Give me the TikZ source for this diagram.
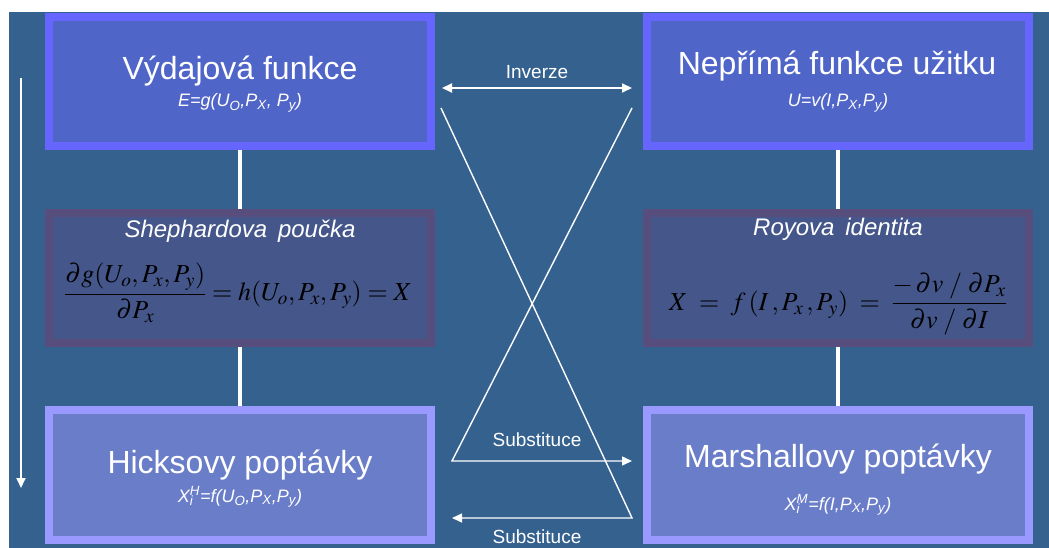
\documentclass[tikz,border=0pt]{standalone}
\usepackage{amsmath}
\usepackage{mathptmx}
\usepackage{fontspec}
\setmainfont{Liberation Sans}
\usepackage{xcolor}
\usepackage{tikz}
\usetikzlibrary{arrows.meta,positioning}
\definecolor{slide}{HTML}{35618F}
\definecolor{topedge}{HTML}{6666FF}
\definecolor{topfill}{HTML}{5065C8}
\definecolor{midedge}{HTML}{584E7E}
\definecolor{midfill}{HTML}{44568A}
\definecolor{lowedge}{HTML}{9999FF}
\definecolor{lowfill}{HTML}{6A7DC8}
\newcommand{\sub}[1]{\textsubscript{#1}}
\newcommand{\subsup}[3]{#1\rlap{\textsubscript{#2}}\textsuperscript{#3}}
\tikzset{
  >={Triangle[length=10pt,width=9pt]},
  base/.style={line width=8pt,inner sep=0pt,outer sep=4pt,minimum width=382pt},
  topbox/.style={base,draw=topedge,fill=topfill,minimum height=129pt},
  midbox/.style={base,draw=midedge,fill=midfill,minimum height=130pt},
  lowbox/.style={base,draw=lowedge,fill=lowfill,minimum height=130pt},
  title/.style={anchor=base,text=white,font=\fontsize{32}{36}\selectfont},
  formula/.style={anchor=base,text=white,font=\fontsize{18}{21}\selectfont\itshape},
  rule/.style={anchor=base,text=white,font=\fontsize{24}{28}\selectfont\itshape},
  mathbox/.style={text=black,font=\fontsize{26}{30}\selectfont},
  tag/.style={text=white,font=\fontsize{19}{22}\selectfont},
  link/.style={draw=white,line width=4pt},
  wline/.style={draw=white,line width=2pt},
  cross/.style={draw=white,line width=1.4pt,line join=miter}
}
\begin{document}
\begin{tikzpicture}[x=1pt,y=-1pt]
  \useasboundingbox (0,0) rectangle (1049,548);
  \fill[slide] (9,12) rectangle (1049,548);
  % boxes
  \node[topbox] (cost) at (240,81.5) {};
  \node[topbox] (indirect) at (838,81.5) {};
  \node[midbox] (shephard) at (240,278) {};
  \node[midbox] (roy) at (838,278) {};
  \node[lowbox] (hicks) at (240,475) {};
  \node[lowbox] (marshall) at (838,475) {};
  % texts
  \node[title] (cost-t) at (240,80) {Výdajová funkce};
  \node[formula] (cost-f) at (240,107) {E=g(U\sub{O},P\sub{X}, P\sub{y})};
  \node[title] (indirect-t) at (837,75) {Nepřímá funkce užitku};
  \node[formula] (indirect-f) at (838,107) {U=v(I,P\sub{X},P\sub{y})};
  \node[rule] (shephard-t) at (240,237) {Shephardova\hspace{0.45em}poučka};
  \node[mathbox] (shephard-f) at (238,293)
    {$\displaystyle \frac{\partial g(U_o,P_x,P_y)}{\partial P_x}=h(U_o,P_x,P_y)=X$};
  \node[rule] (roy-t) at (838,236) {Royova\hspace{0.45em}identita};
  \node[mathbox] (roy-f) at (838,304)
    {$\displaystyle X\;=\;f\,(I\,,P_x\,,P_y)\;=\;\frac{-\,\partial v\;/\;\partial P_x}{\partial v\;/\;\partial I}$};
  \node[title] (hicks-t) at (240,473) {Hicksovy poptávky};
  \node[formula] (hicks-f) at (240,502) {\subsup{X}{i}{H}=f(U\sub{O},P\sub{X},P\sub{y})};
  \node[title] (marshall-t) at (838,467) {Marshallovy poptávky};
  \node[formula] (marshall-f) at (838,510) {\subsup{X}{i}{M}=f(I,P\sub{X},P\sub{y})};
  % vertical links
  \draw[link] (cost.south) -- (shephard.north);
  \draw[link] (shephard.south) -- (hicks.north);
  \draw[link] (indirect.south) -- (roy.north);
  \draw[link] (roy.south) -- (marshall.north);
  % left arrow
  \coordinate (flow-s) at (21,78);
  \coordinate (flow-e) at (21,488);
  \draw[wline,->] (flow-s) -- (flow-e);
  % inverse
  \coordinate (inv-l) at (442,88);
  \coordinate (inv-r) at (632,88);
  \draw[wline,<->] (inv-l) -- (inv-r);
  \node[tag] (inv-t) at (537,72) {Inverze};
  % substitutions
  \coordinate (sa1) at (632,108);
  \coordinate (sa2) at (452,461);
  \coordinate (sa3) at (632,461);
  \draw[cross,->] (sa1) -- (sa2) -- (sa3);
  \coordinate (sb1) at (441,108);
  \coordinate (sb2) at (632,518);
  \coordinate (sb3) at (452,518);
  \draw[cross,->] (sb1) -- (sb2) -- (sb3);
  \node[tag] (subs-up) at (537,440) {Substituce};
  \node[tag] (subs-low) at (537,537) {Substituce};
\end{tikzpicture}
\end{document}
